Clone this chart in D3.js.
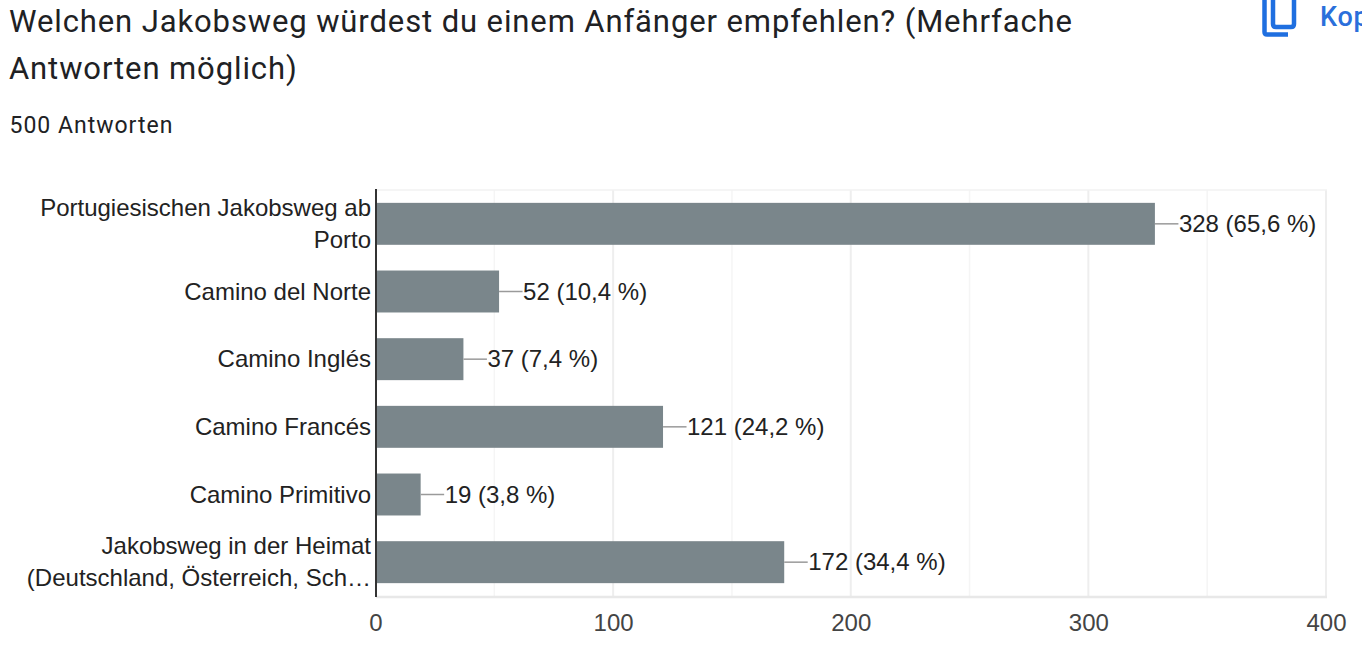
<!DOCTYPE html>
<html><head><meta charset="utf-8">
<script src="https://cdnjs.cloudflare.com/ajax/libs/d3/7.8.5/d3.min.js"></script>
<style>html,body{margin:0;padding:0;background:#fff;overflow:hidden}svg{display:block}text{font-family:"Liberation Sans",Arial,sans-serif}</style>
</head><body><svg id="c" width="1362" height="645"></svg>
<script>
const categories=[["Portugiesischen Jakobsweg ab","Porto"],["Camino del Norte"],["Camino Inglés"],["Camino Francés"],["Camino Primitivo"],["Jakobsweg in der Heimat","(Deutschland, Österreich, Sch…"]];
const values=[328,52,37,121,19,172];
const valueLabels=["328 (65,6 %)","52 (10,4 %)","37 (7,4 %)","121 (24,2 %)","19 (3,8 %)","172 (34,4 %)"];
const majorTicks=[0,100,200,300,400];
const minorTicks=[50,150,250,350];
const titleLines=["Welchen Jakobsweg würdest du einem Anfänger empfehlen? (Mehrfache","Antworten möglich)"];
const subtitle="500 Antworten";

const svg=d3.select("#c");
const x=d3.scaleLinear().domain([0,400]).range([375.5,1326]);
const y=d3.scaleBand().domain(d3.range(categories.length)).range([190,596]).paddingInner(0.38).paddingOuter(0.19);

svg.selectAll(".t").data(titleLines).join("text").attr("x",9).attr("y",(d,i)=>32+i*47)
 .attr("font-size",31).attr("fill","#202124").attr("letter-spacing",.89).style("font-family","Roboto,sans-serif").text(d=>d);
svg.append("text").attr("x",9.5).attr("y",133).attr("font-size",23).attr("fill","#202124").attr("letter-spacing",1).style("font-family","Roboto,sans-serif").text(subtitle);

// top-right copy control
const g=svg.append("g").attr("fill","none").attr("stroke","#1f6fe0").attr("stroke-width",4.5).attr("stroke-linejoin","round");
g.append("path").attr("d","M1264.5,0V32Q1264.5,34.5 1267,34.5H1288");
g.append("path").attr("d","M1273,0V24Q1273,27 1276,27H1291Q1294,27 1294,24V0");
svg.append("text").attr("x",1320).attr("y",26).attr("font-size",27).attr("font-weight",500).attr("fill","#2a6fdb").style("font-family","Roboto,sans-serif").attr("letter-spacing",.8).text("Kop");

// grid
svg.append("g").selectAll("line").data(minorTicks).join("line").attr("x1",d=>x(d)).attr("x2",d=>x(d)).attr("y1",190).attr("y2",596).attr("stroke","#f5f5f5").attr("stroke-width",1.5);
svg.append("g").selectAll("line").data(majorTicks.slice(1)).join("line").attr("x1",d=>x(d)).attr("x2",d=>x(d)).attr("y1",190).attr("y2",596).attr("stroke","#eeeeee").attr("stroke-width",2);
svg.append("line").attr("x1",376).attr("x2",1327).attr("y1",190).attr("y2",190).attr("stroke","#f2f2f2").attr("stroke-width",1.5);
svg.append("line").attr("x1",376).attr("x2",1327).attr("y1",597).attr("y2",597).attr("stroke","#e8e8e8").attr("stroke-width",2.5);

// bars
svg.append("g").selectAll("rect").data(values).join("rect").attr("x",x(0)).attr("y",(d,i)=>y(i)).attr("width",d=>x(d)-x(0)).attr("height",y.bandwidth()).attr("fill","#7a868b");
// leader lines
svg.append("g").selectAll("line").data(values).join("line").attr("x1",d=>x(d)).attr("x2",d=>x(d)+23.5).attr("y1",(d,i)=>y(i)+y.bandwidth()/2).attr("y2",(d,i)=>y(i)+y.bandwidth()/2).attr("stroke","#9a9a9a").attr("stroke-width",1.5);
svg.append("g").selectAll("text").data(values).join("text").attr("x",d=>x(d)+24).attr("y",(d,i)=>y(i)+y.bandwidth()/2+8).attr("font-size",24).attr("fill","#222").text((d,i)=>valueLabels[i]);

svg.append("line").attr("x1",376).attr("x2",376).attr("y1",189).attr("y2",597).attr("stroke","#333").attr("stroke-width",2);

// category labels
categories.forEach((lines,i)=>{
 const cy=y(i)+y.bandwidth()/2;
 lines.forEach((s,j)=>{
  svg.append("text").attr("x",371).attr("y",cy+8+(j-(lines.length-1)/2)*32).attr("text-anchor","end").attr("font-size",24).attr("fill","#222").text(s);
 });
});

// axis labels
const axis=d3.axisBottom(x).tickValues(majorTicks).tickSize(0).tickPadding(0);
const ga=svg.append("g").attr("transform","translate(0,631)").call(axis);
ga.select(".domain").remove();
ga.selectAll("text").attr("y",0).attr("dy",0).attr("font-size",24).attr("fill","#444").style("font-family",'"Liberation Sans",Arial,sans-serif');
</script></body></html>
